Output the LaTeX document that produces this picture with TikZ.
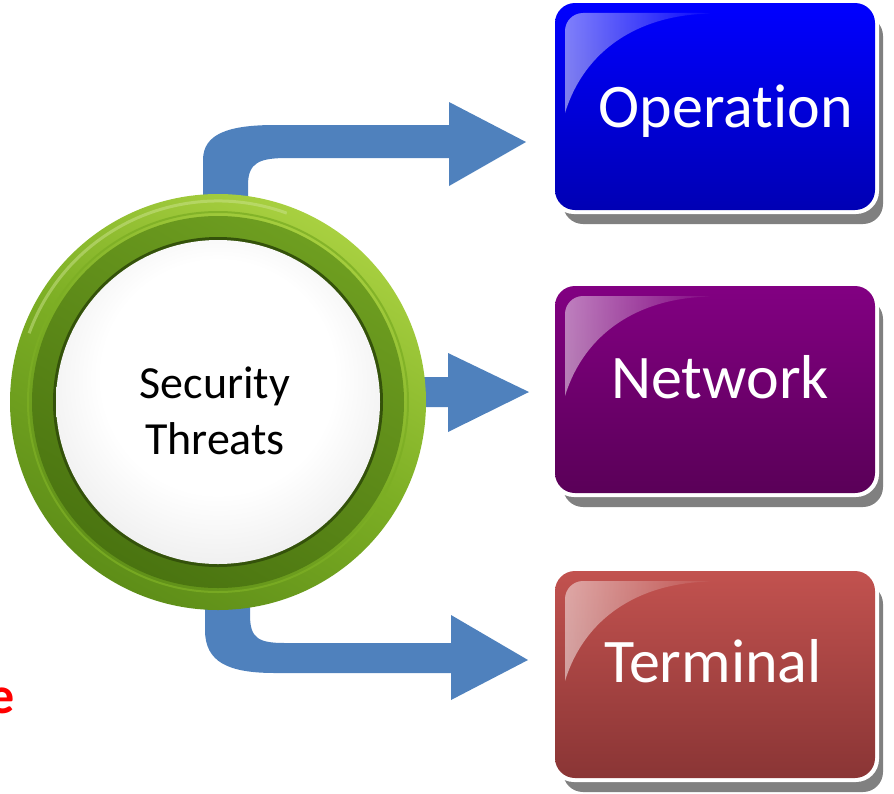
\documentclass[tikz,border=0pt]{standalone}
\usepackage{fontspec}
\setmainfont{Carlito}[Ligatures=NoCommon]
\usetikzlibrary{fadings}
\definecolor{arrowblue}{HTML}{4F81BD}
\definecolor{opTop}{HTML}{0000FF}
\definecolor{opBot}{HTML}{0000B4}
\definecolor{nwTop}{HTML}{820082}
\definecolor{nwBot}{HTML}{5A0058}
\definecolor{tmTop}{HTML}{C2524F}
\definecolor{tmBot}{HTML}{8A3535}
\definecolor{ringLight}{HTML}{A8D040}
\definecolor{ringMid}{HTML}{7CAE24}
\definecolor{ringDark}{HTML}{5E8E18}
\definecolor{bandLight}{HTML}{6E9E20}
\definecolor{bandDark}{HTML}{4A7410}
\definecolor{edgeDark}{HTML}{34520A}
\tikzfading[name=glossfade, left color=transparent!50, right color=transparent!100]
\pgfdeclareradialshading{sphereshade}{\pgfpoint{0bp}{6bp}}{%
  color(0bp)=(white); color(18bp)=(white); color(38bp)=(black!12); color(48bp)=(black!28); color(50bp)=(black!35)}
\tikzset{
  boxtext/.style={text=white, font=\fontsize{62}{70}\selectfont, anchor=base, inner sep=0pt},
  arrowshape/.style={fill=arrowblue}
}
\newcommand{\glossbox}[4]{% #1 top y, #2 top color, #3 bottom color, #4 name
  \fill[black!50, rounded corners=20pt] (563,#1+13) rectangle (883,#1+221);
  \fill[white, rounded corners=23pt] (551,#1-4) rectangle (879,#1+211);
  \shade[rounded corners=20pt, top color=#2, bottom color=#3] (555,#1) rectangle (875,#1+207);
  \fill[white, path fading=glossfade, rounded corners=18pt]
    (565,#1+110) -- (565,#1+10) -- (720,#1+10) [sharp corners]
    .. controls (640,#1+14) and (585,#1+45) .. (565,#1+110) -- cycle;
  \coordinate (#4) at (715,#1+103.5);
}
\begin{document}
\begin{tikzpicture}[x=1pt,y=-1pt]
\useasboundingbox (0,0) rectangle (894,793);
\clip (0,0) rectangle (894,793);

% boxes
\glossbox{3}{opTop}{opBot}{opbox}
\glossbox{286}{nwTop}{nwBot}{nwbox}
\glossbox{571}{tmTop}{tmBot}{tmbox}
\node[boxtext] (optext) at (726,127) {Operation};
\node[boxtext] (nwtext) at (720,398) {Network};
\node[boxtext] (tmtext) at (713,682) {Terminal};

% arrows
\fill[arrowshape] (203,300) -- (203,160)
  .. controls (203,134) and (228,125) .. (275,125)
  -- (449,125) -- (449,102) -- (526,142) -- (449,186) -- (449,158)
  -- (288,158) .. controls (260,158) and (248,162) .. (248,185)
  -- (248,300) -- cycle;
\fill[arrowshape] (380,377) -- (448,377) -- (448,353) -- (529,392)
  -- (448,432) -- (448,407) -- (380,407) -- cycle;
\fill[arrowshape] (205,500) -- (205,630)
  .. controls (205,662) and (228,673) .. (275,673)
  -- (451,673) -- (451,700) -- (528,660) -- (451,615) -- (451,643)
  -- (285,643) .. controls (258,643) and (250,638) .. (250,615)
  -- (250,500) -- cycle;

% central circle
\node[circle, minimum size=416pt, inner sep=0pt] (st) at (218,402) {};
\shade[top color=ringLight, bottom color=ringDark, middle color=ringMid, shading angle=-30]
  (st.center) circle[radius=208pt];
\draw[ringLight!60!white, line width=3pt, opacity=0.5]
  (st.center) ++(160:201pt) arc[start angle=160, end angle=70, radius=201pt];
\shade[top color=bandLight, bottom color=bandDark, shading angle=-30]
  (st.center) circle[radius=186pt];
\draw[ringMid, line width=2pt, opacity=0.8] (st.center) circle[radius=190pt];
\fill[edgeDark] (st.center) circle[radius=165pt];
\shade[shading=sphereshade] (st.center) circle[radius=162pt];
\node[align=center, font=\fontsize{46}{56}\selectfont, inner sep=0pt] (stlabel) at (215,411) {Security\\Threats};

% clipped red text at the left
\node[anchor=base east, inner sep=0pt, text=red, font=\fontsize{52}{60}\selectfont\bfseries] (redtext) at (15,713) {e};
\end{tikzpicture}
\end{document}
